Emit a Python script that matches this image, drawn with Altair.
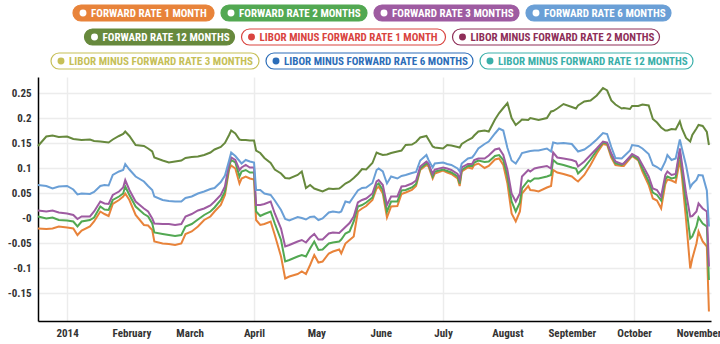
import altair as alt
import pandas as pd

# ---------------- data ----------------
dates = [
    "2013-12-18", "2013-12-22", "2013-12-25", "2013-12-28", "2014-01-01", "2014-01-04", "2014-01-06",
    "2014-01-08", "2014-01-12", "2014-01-14", "2014-01-17", "2014-01-19", "2014-01-21", "2014-01-23",
    "2014-01-26", "2014-01-28", "2014-01-29", "2014-01-31", "2014-02-03", "2014-02-07", "2014-02-09",
    "2014-02-11", "2014-02-12", "2014-02-16", "2014-02-19", "2014-02-22", "2014-02-25", "2014-02-27",
    "2014-03-02", "2014-03-05", "2014-03-08", "2014-03-11", "2014-03-13", "2014-03-16", "2014-03-18",
    "2014-03-20", "2014-03-21", "2014-03-23", "2014-03-25", "2014-03-26", "2014-03-28", "2014-03-30",
    "2014-04-01", "2014-04-02", "2014-04-04", "2014-04-06", "2014-04-09", "2014-04-11", "2014-04-14",
    "2014-04-16", "2014-04-18", "2014-04-22", "2014-04-24", "2014-04-26", "2014-04-28", "2014-04-30",
    "2014-05-02", "2014-05-04", "2014-05-07", "2014-05-09", "2014-05-12", "2014-05-13", "2014-05-15",
    "2014-05-17", "2014-05-19", "2014-05-21", "2014-05-23", "2014-05-25", "2014-05-28", "2014-05-30",
    "2014-05-31", "2014-06-02", "2014-06-04", "2014-06-06", "2014-06-09", "2014-06-11", "2014-06-13",
    "2014-06-16", "2014-06-18", "2014-06-20", "2014-06-23", "2014-06-24", "2014-06-26", "2014-06-27",
    "2014-07-01", "2014-07-03", "2014-07-05", "2014-07-08", "2014-07-09", "2014-07-10", "2014-07-13",
    "2014-07-15", "2014-07-16", "2014-07-18", "2014-07-21", "2014-07-23", "2014-07-26", "2014-07-28",
    "2014-07-30", "2014-08-01", "2014-08-03", "2014-08-05", "2014-08-07", "2014-08-08", "2014-08-11",
    "2014-08-12", "2014-08-14", "2014-08-16", "2014-08-20", "2014-08-22", "2014-08-23", "2014-08-25",
    "2014-08-28", "2014-09-01", "2014-09-03", "2014-09-04", "2014-09-07", "2014-09-10", "2014-09-13",
    "2014-09-16", "2014-09-18", "2014-09-20", "2014-09-22", "2014-09-25", "2014-09-26", "2014-09-29",
    "2014-09-30", "2014-10-03", "2014-10-05", "2014-10-08", "2014-10-10", "2014-10-12", "2014-10-14",
    "2014-10-16", "2014-10-17", "2014-10-19", "2014-10-21", "2014-10-23", "2014-10-24", "2014-10-26",
    "2014-10-28", "2014-10-29", "2014-10-31", "2014-11-01", "2014-11-03", "2014-11-05", "2014-11-06",
]

fr_1m = [
    -0.021, -0.022, -0.021, -0.017, -0.019, -0.021, -0.034, -0.025, -0.017, -0.007,
    0.013, 0.008, 0.004, 0.028, 0.036, 0.043, 0.049, 0.036, 0.006, -0.014,
    -0.015, -0.024, -0.047, -0.051, -0.052, -0.054, -0.051, -0.032, -0.027, -0.017,
    -0.004, 0.003, 0.013, 0.026, 0.046, 0.097, 0.105, 0.099, 0.069, 0.079,
    0.083, 0.079, 0.077, -0.004, -0.014, -0.012, -0.007, -0.034, -0.077, -0.121,
    -0.117, -0.112, -0.107, -0.112, -0.094, -0.074, -0.089, -0.087, -0.071, -0.067,
    -0.063, -0.071, -0.051, -0.044, -0.037, 0.013, 0.019, 0.024, 0.036, 0.059,
    0.063, 0.049, 0.001, 0.023, 0.024, 0.048, 0.051, 0.056, 0.064, 0.096,
    0.106, 0.103, 0.079, 0.089, 0.095, 0.091, 0.088, 0.079, 0.064, 0.093,
    0.101, 0.099, 0.106, 0.109, 0.100, 0.104, 0.117, 0.119, 0.106, 0.069,
    0.009, -0.007, 0.013, 0.049, 0.064, 0.056, 0.055, 0.053, 0.061, 0.064,
    0.096, 0.091, 0.088, 0.083, 0.076, 0.073, 0.086, 0.106, 0.129, 0.148,
    0.146, 0.121, 0.106, 0.104, 0.104, 0.119, 0.124, 0.115, 0.093, 0.066,
    0.039, 0.035, 0.019, 0.068, 0.077, 0.075, 0.071, 0.116, 0.083, -0.004,
    -0.101, -0.081, -0.051, -0.027, -0.047, -0.057, -0.187,
]

fr_2m = [
    0.003, -0.001, 0.001, -0.004, -0.005, -0.007, -0.017, -0.007, -0.004, 0.001,
    0.023, 0.017, 0.016, 0.036, 0.043, 0.049, 0.063, 0.046, 0.023, 0.008,
    0.003, -0.011, -0.029, -0.032, -0.034, -0.036, -0.034, -0.017, -0.012, -0.003,
    0.006, 0.013, 0.021, 0.036, 0.053, 0.103, 0.116, 0.111, 0.083, 0.093,
    0.096, 0.091, 0.091, 0.013, 0.004, 0.008, 0.013, -0.011, -0.044, -0.087,
    -0.084, -0.077, -0.074, -0.077, -0.061, -0.047, -0.064, -0.063, -0.051, -0.049,
    -0.047, -0.043, -0.031, -0.027, -0.007, 0.023, 0.026, 0.031, 0.041, 0.066,
    0.069, 0.056, 0.013, 0.033, 0.033, 0.055, 0.056, 0.061, 0.068, 0.099,
    0.109, 0.107, 0.083, 0.093, 0.097, 0.094, 0.091, 0.083, 0.069, 0.096,
    0.104, 0.104, 0.111, 0.115, 0.112, 0.113, 0.124, 0.126, 0.116, 0.083,
    0.033, 0.013, 0.031, 0.059, 0.075, 0.073, 0.079, 0.079, 0.083, 0.086,
    0.116, 0.109, 0.106, 0.101, 0.099, 0.089, 0.101, 0.117, 0.135, 0.151,
    0.149, 0.126, 0.109, 0.106, 0.109, 0.121, 0.126, 0.117, 0.099, 0.073,
    0.051, 0.046, 0.035, 0.077, 0.083, 0.079, 0.081, 0.133, 0.097, 0.026,
    -0.041, -0.037, -0.017, 0.001, -0.011, -0.017, -0.124,
]

fr_3m = [
    0.015, 0.013, 0.015, 0.011, 0.009, 0.006, -0.002, 0.003, 0.003, 0.013,
    0.033, 0.029, 0.028, 0.046, 0.053, 0.061, 0.076, 0.056, 0.033, 0.019,
    0.013, -0.001, -0.011, -0.012, -0.012, -0.014, -0.012, 0.003, 0.008, 0.015,
    0.019, 0.025, 0.033, 0.046, 0.063, 0.109, 0.121, 0.116, 0.096, 0.101,
    0.106, 0.101, 0.101, 0.026, 0.026, 0.028, 0.033, 0.009, -0.021, -0.057,
    -0.054, -0.047, -0.044, -0.049, -0.039, -0.032, -0.043, -0.043, -0.031, -0.029,
    -0.030, -0.026, -0.018, -0.010, 0.003, 0.031, 0.036, 0.039, 0.049, 0.073,
    0.076, 0.066, 0.026, 0.043, 0.043, 0.063, 0.064, 0.069, 0.075, 0.103,
    0.113, 0.109, 0.088, 0.097, 0.101, 0.099, 0.096, 0.088, 0.077, 0.101,
    0.108, 0.108, 0.116, 0.119, 0.119, 0.125, 0.137, 0.139, 0.126, 0.096,
    0.049, 0.033, 0.049, 0.083, 0.096, 0.093, 0.099, 0.101, 0.104, 0.099,
    0.131, 0.121, 0.119, 0.116, 0.113, 0.103, 0.113, 0.126, 0.139, 0.153,
    0.151, 0.129, 0.113, 0.108, 0.109, 0.123, 0.128, 0.121, 0.106, 0.083,
    0.059, 0.056, 0.043, 0.086, 0.093, 0.086, 0.088, 0.139, 0.109, 0.049,
    0.003, 0.004, 0.013, 0.029, 0.019, 0.013, -0.097,
]

fr_6m = [
    0.066, 0.064, 0.059, 0.063, 0.064, 0.057, 0.047, 0.049, 0.048, 0.052,
    0.064, 0.066, 0.065, 0.086, 0.093, 0.096, 0.108, 0.097, 0.083, 0.073,
    0.064, 0.056, 0.043, 0.036, 0.034, 0.033, 0.033, 0.040, 0.043, 0.049,
    0.053, 0.058, 0.060, 0.072, 0.085, 0.115, 0.131, 0.124, 0.114, 0.109,
    0.116, 0.113, 0.111, 0.056, 0.056, 0.049, 0.046, 0.035, 0.016, -0.002,
    -0.005, 0.002, 0.000, -0.003, 0.002, 0.003, -0.004, -0.001, 0.011, 0.013,
    0.011, 0.013, 0.033, 0.031, 0.043, 0.055, 0.060, 0.061, 0.070, 0.096,
    0.099, 0.093, 0.069, 0.083, 0.079, 0.084, 0.086, 0.090, 0.092, 0.115,
    0.126, 0.116, 0.101, 0.109, 0.111, 0.108, 0.106, 0.099, 0.093, 0.109,
    0.119, 0.121, 0.126, 0.139, 0.148, 0.153, 0.169, 0.179, 0.175, 0.140,
    0.115, 0.109, 0.122, 0.130, 0.133, 0.134, 0.135, 0.135, 0.139, 0.133,
    0.151, 0.149, 0.150, 0.148, 0.138, 0.133, 0.137, 0.146, 0.157, 0.170,
    0.168, 0.142, 0.120, 0.119, 0.123, 0.135, 0.146, 0.144, 0.139, 0.128,
    0.106, 0.102, 0.096, 0.113, 0.126, 0.116, 0.119, 0.157, 0.139, 0.105,
    0.061, 0.068, 0.076, 0.086, 0.085, 0.055, -0.017,
]

fr_12m = [
    0.144, 0.163, 0.165, 0.162, 0.163, 0.158, 0.157, 0.156, 0.157, 0.154,
    0.153, 0.152, 0.151, 0.157, 0.164, 0.168, 0.173, 0.164, 0.146, 0.144,
    0.139, 0.133, 0.121, 0.115, 0.111, 0.113, 0.115, 0.120, 0.122, 0.123,
    0.126, 0.131, 0.137, 0.142, 0.150, 0.166, 0.175, 0.169, 0.157, 0.156,
    0.156, 0.155, 0.155, 0.135, 0.130, 0.120, 0.110, 0.097, 0.089, 0.080,
    0.079, 0.086, 0.093, 0.060, 0.066, 0.059, 0.056, 0.053, 0.059, 0.058,
    0.059, 0.062, 0.069, 0.073, 0.080, 0.088, 0.098, 0.097, 0.110, 0.131,
    0.129, 0.126, 0.127, 0.130, 0.133, 0.135, 0.146, 0.147, 0.152, 0.161,
    0.164, 0.157, 0.143, 0.141, 0.139, 0.146, 0.145, 0.142, 0.141, 0.148,
    0.156, 0.160, 0.165, 0.173, 0.175, 0.173, 0.197, 0.210, 0.220, 0.230,
    0.200, 0.186, 0.193, 0.197, 0.196, 0.200, 0.198, 0.196, 0.200, 0.213,
    0.214, 0.219, 0.228, 0.222, 0.219, 0.225, 0.233, 0.235, 0.245, 0.260,
    0.255, 0.235, 0.227, 0.219, 0.220, 0.218, 0.224, 0.224, 0.227, 0.225,
    0.198, 0.191, 0.181, 0.175, 0.175, 0.178, 0.177, 0.193, 0.179, 0.160,
    0.153, 0.166, 0.179, 0.186, 0.184, 0.172, 0.146,
]

series_names = [
    "FORWARD RATE 1 MONTH", "FORWARD RATE 2 MONTHS", "FORWARD RATE 3 MONTHS",
    "FORWARD RATE 6 MONTHS", "FORWARD RATE 12 MONTHS",
    "LIBOR MINUS FORWARD RATE 1 MONTH", "LIBOR MINUS FORWARD RATE 2 MONTHS",
    "LIBOR MINUS FORWARD RATE 3 MONTHS", "LIBOR MINUS FORWARD RATE 6 MONTHS",
    "LIBOR MINUS FORWARD RATE 12 MONTHS",
]
series_colors = [
    "#E8833A", "#52A852", "#9E5BA1", "#6A9FD6", "#67893D",
    "#D9443F", "#8E2E58", "#C6BF57", "#2C6DB8", "#3AAFA9",
]
series_visible = [True, True, True, True, True, False, False, False, False, False]

y_ticks = [-0.15, -0.1, -0.05, 0, 0.05, 0.1, 0.15, 0.2, 0.25]

# ---------------- layout (not data) ----------------
PLOT_W, PLOT_H = 673, 244
PAD = {"left": 38, "top": 77, "right": 9, "bottom": 23}
FONT = "Roboto Condensed, Roboto, sans-serif"
legend_rows = [[0, 1, 2, 3], [4, 5, 6], [7, 8, 9]]
legend_row_cy = [-64, -40, -16]
pill_w = [141, 146, 145, 145, 150, 204, 207, 208, 207, 213]
pill_gap = 7
pill_h = 16
legend_center = PLOT_W / 2 - 2.5

# ---------------- build tables ----------------
line_series = [fr_1m, fr_2m, fr_3m, fr_6m, fr_12m]
rows = []
for name, vals in zip(series_names[:5], line_series):
    for d, v in zip(dates, vals):
        rows.append({"date": d, "value": v, "series": name})
df = pd.DataFrame(rows)

leg = []
for r, idxs in enumerate(legend_rows):
    total = sum(pill_w[i] for i in idxs) + pill_gap * (len(idxs) - 1)
    left = legend_center - total / 2
    cy = legend_row_cy[r]
    for i in idxs:
        c = series_colors[i]
        on = series_visible[i]
        leg.append({
            "label": series_names[i],
            "x0": left, "x1": left + pill_w[i],
            "y0": cy - pill_h / 2, "y1": cy + pill_h / 2, "cy": cy,
            "dx": left + 10, "tx": left + 18,
            "fill": c if on else "#ffffff",
            "stroke": c,
            "dot": "#ffffff" if on else c,
            "tcol": "#ffffff" if on else c,
        })
        left += pill_w[i] + pill_gap
leg_df = pd.DataFrame(leg)

month_vals = [alt.DateTime(year=2014, month=m, date=1) for m in range(1, 12)]

lines = alt.Chart(df).mark_line(strokeWidth=2).encode(
    x=alt.X(
        "date:T",
        scale=alt.Scale(domain=[alt.DateTime(year=2013, month=12, date=18),
                                alt.DateTime(year=2014, month=11, date=7)]),
        axis=alt.Axis(
            values=month_vals,
            labelExpr="month(datum.value) == 0 ? timeFormat(datum.value, '%Y') : timeFormat(datum.value, '%B')",
            title=None,
            grid=True,
            gridColor="#ececec",
            gridWidth=1.5,
            gridOpacity={"condition": {"test": "month(datum.value) % 3 == 0", "value": 1}, "value": 0},
            ticks=False,
            domainColor="#000000",
            domainWidth=1.5,
            labelPadding=6,
            labelFlush=False,
            labelOverlap=False,
        ),
    ),
    y=alt.Y(
        "value:Q",
        scale=alt.Scale(domain=[-0.206, 0.282], nice=False, zero=False),
        axis=alt.Axis(
            values=y_ticks,
            labelExpr="datum.value == 0 ? '-0' : (datum.value < 0 ? '-' : '') + format(abs(datum.value), '~g')",
            title=None,
            grid=True,
            gridColor="#ececec",
            gridWidth=1.5,
            ticks=False,
            domainColor="#000000",
            domainWidth=1.5,
            labelPadding=7,
        ),
    ),
    color=alt.Color("series:N", scale=alt.Scale(domain=series_names[:5], range=series_colors[:5]), legend=None),
)

base_leg = alt.Chart(leg_df)
pills = base_leg.mark_rect(cornerRadius=8, strokeWidth=1.2).encode(
    x=alt.X("x0:Q", scale=None, axis=None),
    x2="x1:Q",
    y=alt.Y("y0:Q", scale=None, axis=None),
    y2="y1:Q",
    fill=alt.Fill("fill:N", scale=None),
    stroke=alt.Stroke("stroke:N", scale=None),
)
dots = base_leg.mark_circle(size=48, opacity=1).encode(
    x=alt.X("dx:Q", scale=None, axis=None),
    y=alt.Y("cy:Q", scale=None, axis=None),
    color=alt.Color("dot:N", scale=None),
)
texts = base_leg.mark_text(align="left", baseline="middle", font=FONT, fontSize=11,
                           fontWeight="bold", dy=0.5).encode(
    x=alt.X("tx:Q", scale=None, axis=None),
    y=alt.Y("cy:Q", scale=None, axis=None),
    text="label:N",
    color=alt.Color("tcol:N", scale=None),
)

chart = alt.layer(lines, pills, dots, texts).resolve_scale(
    x="independent", y="independent", color="independent"
).properties(
    width=PLOT_W, height=PLOT_H, autosize="none", padding=PAD, background="#ffffff"
).configure_view(stroke=None).configure_axis(
    labelFont=FONT, labelFontSize=11, labelFontWeight="bold", labelColor="#333333"
)

chart.save("out.html", embed_options={"renderer": "svg", "actions": False})
